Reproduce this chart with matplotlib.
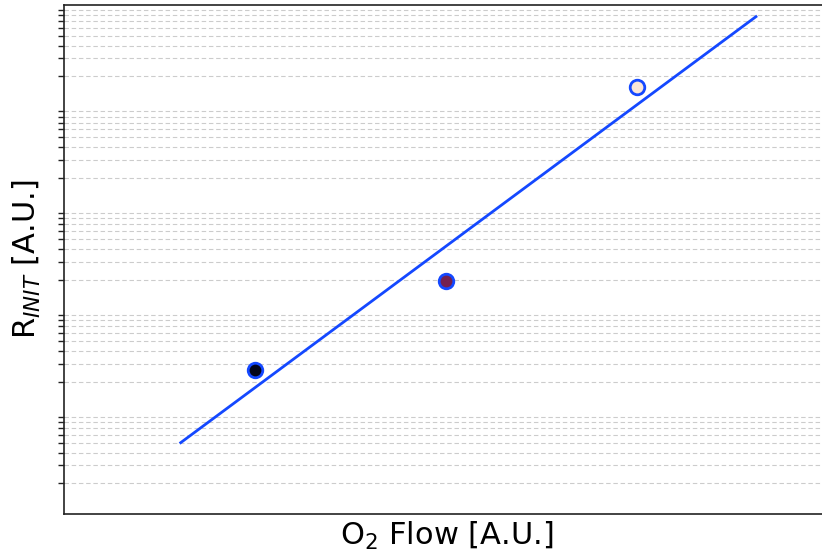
import numpy as np
import matplotlib
matplotlib.use('Agg')
import matplotlib.pyplot as plt
from matplotlib.ticker import LogLocator, NullFormatter

# O2 flow settings (arbitrary units) and measured initial rate
o2_flow = [1, 2, 3]
r_init = [26.0, 194.0, 15700.0]
face_colors = ['#03051a', '#74204f', '#fae6d8']

# range over which the fitted line is drawn
fit_x_range = [0.61, 3.62]

edge_blue = '#1448ff'

fig = plt.figure(figsize=(8.22, 5.55), dpi=100)
ax = fig.add_axes([0.078, 0.074, 0.93, 0.917])

# linear fit in log space
coef = np.polyfit(o2_flow, np.log10(r_init), 1)
xf = np.linspace(fit_x_range[0], fit_x_range[1], 50)
ax.plot(xf, 10 ** np.polyval(coef, xf), color=edge_blue, lw=2, zorder=2)

for x, y, fc in zip(o2_flow, r_init, face_colors):
    ax.scatter(x, y, s=110, facecolor=fc, edgecolor=edge_blue, linewidth=2, zorder=3)

ax.set_yscale('log')
ax.set_xlim(0, 4)
ax.set_ylim(1, 1e5)

ax.yaxis.set_minor_locator(LogLocator(base=10, subs=np.arange(2, 10), numticks=20))
ax.yaxis.set_major_formatter(NullFormatter())
ax.yaxis.set_minor_formatter(NullFormatter())
ax.set_xticks([])
ax.tick_params(axis='y', which='major', length=0)
ax.tick_params(axis='y', which='minor', length=4, width=1, color='#222222')
ax.grid(True, which='minor', axis='y', ls=(0, (4, 2.5)), color='#cccccc', lw=0.8)

for s in ax.spines.values():
    s.set_color('#222222')
    s.set_linewidth(1.2)

ax.set_xlabel('O$_2$ Flow [A.U.]', fontsize=22, labelpad=4)
ax.set_ylabel('R$_{INIT}$ [A.U.]', fontsize=22, labelpad=8)

fig.savefig('out.png', dpi=100)
